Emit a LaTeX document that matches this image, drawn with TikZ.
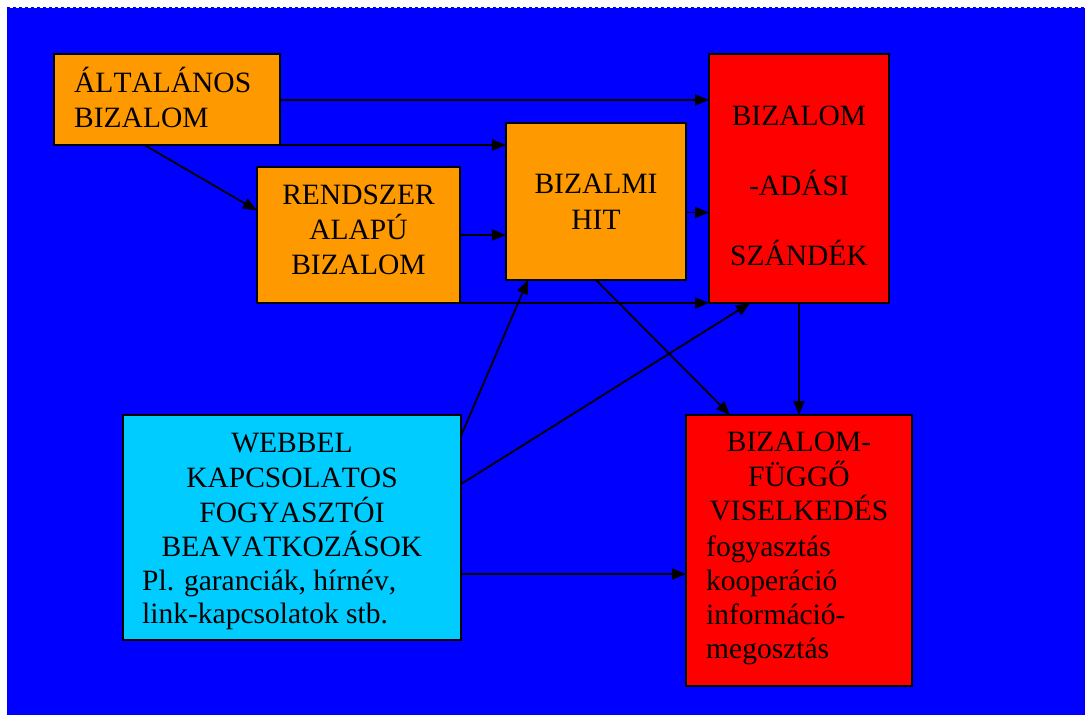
\documentclass[tikz,border=0pt]{standalone}
\usepackage{fontspec}
\setmainfont{Liberation Serif}[Kerning=Off]
\usetikzlibrary{arrows.meta,calc,fit}
\definecolor{bg}{RGB}{0,0,255}
\definecolor{orangebox}{RGB}{255,153,0}
\definecolor{redbox}{RGB}{255,0,0}
\definecolor{cyanbox}{RGB}{0,204,255}
\tikzset{
  box/.style={draw=black,line width=1.5pt,inner sep=0pt,outer sep=0pt},
  txt/.style={inner sep=0pt,anchor=base,font=\fontsize{29.5}{35}\selectfont,text=black},
  txtl/.style={txt,anchor=base west},
  link/.style={line width=1.8pt,draw=black,-{Triangle[length=14pt,width=11pt]}}
}
\newcommand{\boxat}[4]{% name, corner1, corner2, colour
  \path (#2) coordinate (#1-a) (#3) coordinate (#1-b);
  \node[box,fill=#4,fit=(#1-a)(#1-b)] (#1) {};}
\begin{document}
\begin{tikzpicture}[x=1pt,y=-1pt]
\useasboundingbox (0,0) rectangle (1085,715);
% background with dotted edge
\fill[white] (0,0) rectangle (1085,715);
\fill[bg] (7,8) rectangle (1085,715);
\draw[bg,line width=1.6pt,dash pattern=on 3pt off 3pt] (7,7.5) -- (1085,7.5);
\draw[bg,line width=1.6pt,dash pattern=on 3pt off 3pt] (7.5,7) -- (7.5,715);

% boxes
\boxat{gen}{54,54}{280,145}{orangebox}
\boxat{sys}{257,167}{460,303}{orangebox}
\boxat{hit}{506,123}{686,280}{orangebox}
\boxat{int}{709,54}{889,303}{redbox}
\boxat{web}{123,415}{461,640}{cyanbox}
\boxat{beh}{686,415}{912,686}{redbox}

% texts
\node[txtl] (g1) at (74,92) {ÁLTALÁNOS};
\node[txtl] (g2) at (74,127) {BIZALOM};
\node[txt] (s1) at (358.5,204) {RENDSZER};
\node[txt] (s2) at (358.5,239) {ALAPÚ};
\node[txt] (s3) at (358.5,274) {BIZALOM};
\node[txt] (h1) at (596,193) {BIZALMI};
\node[txt] (h2) at (596,229) {HIT};
\node[txt] (i1) at (799,125) {BIZALOM};
\node[txt] (i2) at (799,195) {-ADÁSI};
\node[txt] (i3) at (799,265) {SZÁNDÉK};
\node[txt] (w1) at (292,452) {WEBBEL};
\node[txt] (w2) at (292,487) {KAPCSOLATOS};
\node[txt] (w3) at (292,522) {FOGYASZTÓI};
\node[txt] (w4) at (292,556) {BEAVATKOZÁSOK};
\node[txtl] (w5) at (142,590) {Pl. garanciák, hírnév,};
\node[txtl] (w6) at (142,623) {link-kapcsolatok stb.};
\node[txt] (b1) at (799,451) {BIZALOM-};
\node[txt] (b2) at (799,486) {FÜGGŐ};
\node[txt] (b3) at (799,520) {VISELKEDÉS};
\node[txtl] (b4) at (706,556) {fogyasztás};
\node[txtl] (b5) at (706,590) {kooperáció};
\node[txtl] (b6) at (706,624) {információ-};
\node[txtl] (b7) at (706,658) {megosztás};

% connectors
\draw[link] ($(gen.north east)!0.505!(gen.south east)$) coordinate (gx) -- (gx -| int.west);
\draw[link] (gen.south east) -- (gen.south east -| hit.west);
\draw[link] ($(gen.south west)!0.4!(gen.south east)$) -- ($(sys.north west)!0.32!(sys.south west)$);
\draw[link] (sys.east) -- (sys.east -| hit.west);
\draw[link] (sys.south east) -- (sys.south east -| int.west);
\draw[link] ($(hit.north east)!0.57!(hit.south east)$) coordinate (hx) -- (hx -| int.west);
\draw[link] (hit.south) -- ($(beh.north west)!0.195!(beh.north east)$);
\draw[link] (int.south) -- (int.south |- beh.north);
\draw[link] ($(web.north east)!0.093!(web.south east)$) -- ($(hit.south west)!0.122!(hit.south east)$);
\draw[link] ($(web.north east)!0.307!(web.south east)$) -- ($(int.south west)!0.228!(int.south east)$);
\draw[link] ($(web.north east)!0.707!(web.south east)$) coordinate (wx) -- (wx -| beh.west);
\end{tikzpicture}
\end{document}
